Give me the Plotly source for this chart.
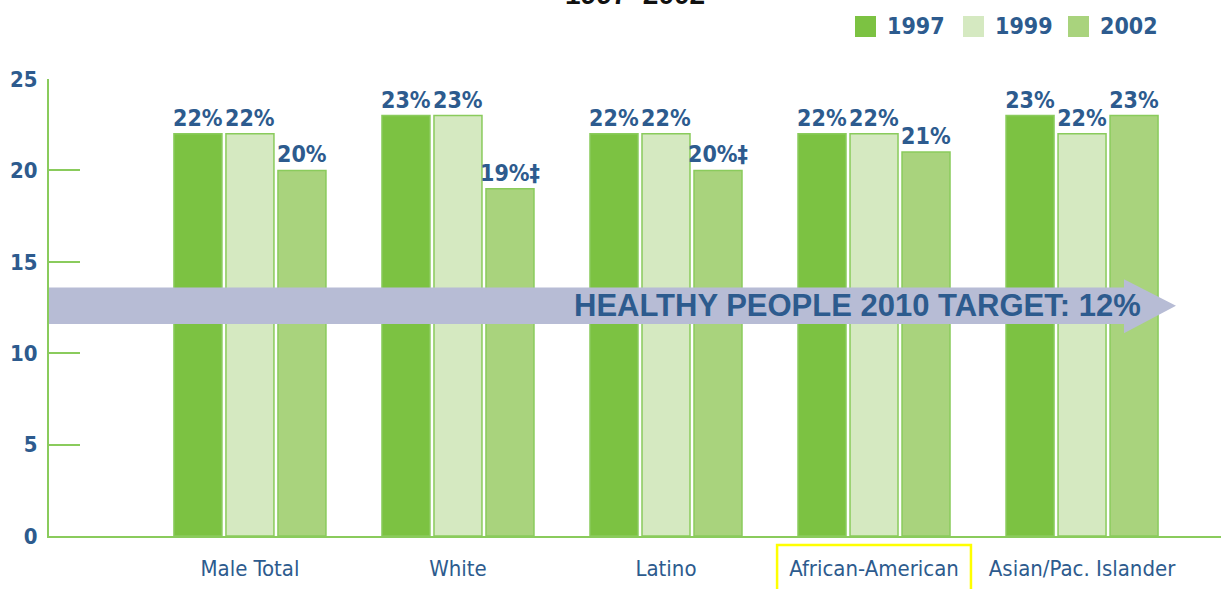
import plotly.graph_objects as go

# ---- data ----
categories = ["Male Total", "White", "Latino", "African-American", "Asian/Pac. Islander"]
years = ["1997", "1999", "2002"]
values_1997 = [22, 23, 22, 22, 23]
values_1999 = [22, 23, 22, 22, 22]
values_2002 = [20, 19, 20, 21, 23]
marks_1997 = ["", "", "", "", ""]
marks_1999 = ["", "", "", "", ""]
marks_2002 = ["", "‡", "‡", "", ""]
target_label = "HEALTHY PEOPLE 2010 TARGET: 12%"
title_text = "1997–2002"
y_ticks = [0, 5, 10, 15, 20, 25]

# ---- styles ----
colors = ["#7cc242", "#d5e9c1", "#a9d37d"]
outline = "#8acb5c"
blue = "#2d5b8e"
narrow = "DejaVu Sans Condensed, Liberation Sans Narrow, Arial Narrow, sans-serif"
wide = "Liberation Sans, Arial, sans-serif"

series = [values_1997, values_1999, values_2002]
marks = [marks_1997, marks_1999, marks_2002]

fig = go.Figure()
for yr, vals, mk, col in zip(years, series, marks, colors):
    fig.add_trace(go.Bar(
        x=categories, y=vals, name=yr,
        marker=dict(color=col, line=dict(color=outline, width=1.5)),
        text=[f"{v}%{m}" for v, m in zip(vals, mk)],
        textposition="outside",
        textfont=dict(family=narrow, size=23, color=blue, weight="bold"),
        constraintext="none", cliponaxis=False,
        showlegend=False,
    ))

# target arrow (decorative band)
arrow_lo, arrow_hi = 11.6, 13.6
head_lo, head_hi = 11.09, 14.05
arrow_mid = (arrow_lo + arrow_hi) / 2
base_x, tip_x = 0.9172, 0.9616
path = (f"M 0,{arrow_lo} L {base_x},{arrow_lo} L {base_x},{head_lo} "
        f"L {tip_x},{arrow_mid} L {base_x},{head_hi} L {base_x},{arrow_hi} "
        f"L 0,{arrow_hi} Z")
shapes = [dict(type="path", path=path, xref="paper", yref="y",
               fillcolor="#b7bcd5", line=dict(width=0), layer="above")]

# yellow highlight box around a category label
shapes.append(dict(type="rect", xref="x", yref="paper",
                   x0=3 - 0.466, x1=3 + 0.466, y0=-0.14, y1=-0.0197,
                   line=dict(color="#ffff00", width=2.5), fillcolor="rgba(0,0,0,0)"))

annotations = [
    dict(text=target_label, x=0.9334, xref="paper", xanchor="right",
         y=arrow_mid, yref="y", yanchor="middle", showarrow=False,
         font=dict(family=wide, size=31, color=blue, weight="bold")),
    dict(text=title_text, x=0.5, xref="paper", xanchor="center",
         y=1.147, yref="paper", yanchor="bottom", showarrow=False,
         font=dict(family=wide, size=28, color="#111111", weight="bold")),
]

# custom legend (large square swatches)
leg_sq_x = [855, 963, 1068]
plot_left, plot_w = 49, 1172
for yr, col, px in zip(years, colors, leg_sq_x):
    x0 = (px - plot_left) / plot_w
    x1 = (px + 21 - plot_left) / plot_w
    shapes.append(dict(type="rect", xref="paper", yref="paper",
                       x0=x0, x1=x1, y0=(536 - 37) / 457, y1=(536 - 16) / 457,
                       fillcolor=col, line=dict(width=0)))
    annotations.append(dict(text=yr, x=(px + 30 - plot_left) / plot_w, xref="paper",
                            xanchor="left", y=(536 - 26.5) / 457, yref="paper",
                            yanchor="middle", showarrow=False,
                            font=dict(family=narrow, size=23, color=blue, weight="bold")))

fig.update_layout(
    width=1221, height=589,
    margin=dict(l=49, r=0, t=79, b=53),
    paper_bgcolor="white", plot_bgcolor="white",
    barmode="group", bargap=0.25, bargroupgap=0.077,
    shapes=shapes, annotations=annotations,
    showlegend=False,
    xaxis=dict(range=[-0.966, 4.668], showline=True, linecolor=outline, linewidth=2,
               showgrid=False, ticks="", zeroline=False, automargin=False,
               ticklabelstandoff=12,
               tickfont=dict(family=narrow, size=22, color=blue)),
    yaxis=dict(range=[0, 25], tickvals=y_ticks, showline=True, linecolor=outline,
               linewidth=2, showgrid=False, zeroline=False, automargin=False,
               ticks="inside", ticklen=31, tickwidth=2, tickcolor=outline,
               ticklabelstandoff=5,
               tickfont=dict(family=narrow, size=22, color=blue, weight="bold")),
)

fig.write_html("out.html", config={"displayModeBar": False},
               post_script="document.body.style.margin='0px';document.body.style.overflow='hidden';")
